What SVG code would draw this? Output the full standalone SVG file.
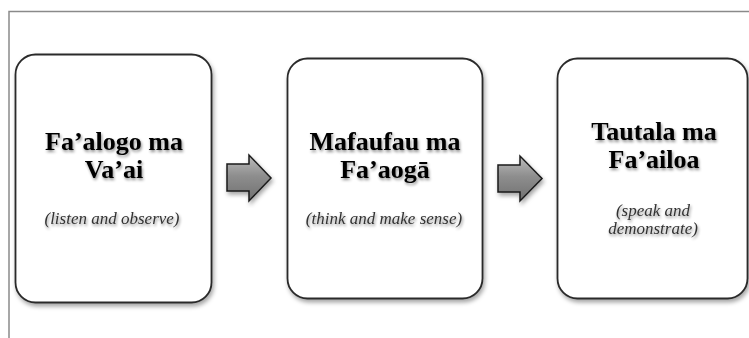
<svg xmlns="http://www.w3.org/2000/svg" width="749" height="338" viewBox="0 0 749 338">
  <style>
    .frame { fill: none; stroke: #8a8a8a; stroke-width: 1.5; }
    .box { fill: #ffffff; stroke: #2a2a2a; stroke-width: 1.8; filter: url(#boxShadow); }
    .title { font-family: "Liberation Serif", "Times New Roman", serif; font-size: 26px; font-weight: bold; fill: #000; text-anchor: middle; filter: url(#textGlow); }
    .sub { font-family: "Liberation Serif", "Times New Roman", serif; font-size: 17px; font-style: italic; fill: #333; text-anchor: middle; filter: url(#textGlow); }
    .arrow { fill: url(#arrowFill); stroke: #1a1a1a; stroke-width: 1.5; stroke-linejoin: miter; filter: url(#boxShadow); }
  </style>
  <defs>
    <filter id="boxShadow" x="-10%" y="-10%" width="125%" height="125%">
      <feDropShadow dx="1.5" dy="3" stdDeviation="2" flood-color="#000" flood-opacity="0.35"/>
    </filter>
    <filter id="textGlow" x="-10%" y="-30%" width="120%" height="170%">
      <feGaussianBlur in="SourceAlpha" stdDeviation="1.6" result="blur"/>
      <feOffset in="blur" dx="1" dy="2" result="off"/>
      <feComponentTransfer in="off" result="shadow">
        <feFuncA type="linear" slope="0.45"/>
      </feComponentTransfer>
      <feMerge>
        <feMergeNode in="shadow"/>
        <feMergeNode in="SourceGraphic"/>
      </feMerge>
    </filter>
    <linearGradient id="arrowFill" x1="0" y1="0" x2="0" y2="1">
      <stop offset="0" stop-color="#bdbdbd"/>
      <stop offset="0.45" stop-color="#8e8e8e"/>
      <stop offset="1" stop-color="#707070"/>
    </linearGradient>
  </defs>

  <rect width="749" height="338" fill="#ffffff"/>

  <!-- outer frame: top and left edges -->
  <path class="frame" d="M9,338 V11.5 H749"/>

  <g id="step-listen">
    <rect class="box" x="15.5" y="54.5" width="196" height="248" rx="20" ry="20"/>
    <text class="title" x="114" y="150">Fa’alogo ma</text>
    <text class="title" x="114" y="178">Va’ai</text>
    <text class="sub" x="112" y="224">(listen and observe)</text>
  </g>

  <g id="step-think">
    <rect class="box" x="287.5" y="58.5" width="195" height="240" rx="20" ry="20"/>
    <text class="title" x="385" y="150">Mafaufau ma</text>
    <text class="title" x="385" y="178">Fa’aogā</text>
    <text class="sub" x="384" y="224">(think and make sense)</text>
  </g>

  <g id="step-speak">
    <rect class="box" x="557.5" y="58.5" width="190" height="240" rx="20" ry="20"/>
    <text class="title" x="654" y="140">Tautala ma</text>
    <text class="title" x="654" y="168">Fa’ailoa</text>
    <text class="sub" x="653" y="216">(speak and</text>
    <text class="sub" x="653" y="234">demonstrate)</text>
  </g>

  <g id="connectors">
    <path class="arrow" d="M227,164 H249 V155 L271,178 L249,201 V191 H227 Z"/>
    <path class="arrow" d="M498,165 H520 V156 L542,178.5 L520,201 V192 H498 Z"/>
  </g>
</svg>
